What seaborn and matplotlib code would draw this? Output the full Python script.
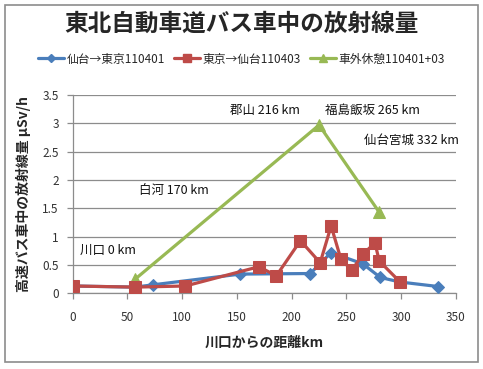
import matplotlib
matplotlib.use("Agg")
import matplotlib.pyplot as plt
import seaborn as sns
import pandas as pd
from matplotlib.ticker import FuncFormatter, MultipleLocator
from matplotlib.lines import Line2D
from matplotlib.patches import Rectangle

# ---- data ----
blue_name = "仙台→東京110401"
red_name = "東京→仙台110403"
green_name = "車外休憩110401+03"

blue_km = [0, 57, 73, 153, 217, 236, 265, 281, 299, 334]
blue_val = [0.13, 0.11, 0.15, 0.34, 0.35, 0.72, 0.52, 0.28, 0.20, 0.12]

red_km = [0, 57, 103, 170, 186, 208, 226, 236, 245, 255, 265, 276, 280, 299]
red_val = [0.13, 0.11, 0.13, 0.47, 0.31, 0.93, 0.54, 1.19, 0.60, 0.41, 0.69, 0.89, 0.57, 0.20]

green_km = [280, 225, 57]
green_val = [1.43, 2.97, 0.25]

notes = ["川口 0 km", "白河 170 km", "郡山 216 km", "福島飯坂 265 km", "仙台宮城 332 km"]
note_x = [7, 61, 144, 230, 266]
note_y = [0.76, 1.82, 3.23, 3.23, 2.70]

title = "東北自動車道バス車中の放射線量"
xlabel = "川口からの距離km"
ylabel = "高速バス車中の放射線量 μSv/h"

# ---- style ----
sns.set_theme(style="white")
plt.rcParams["font.family"] = ["Noto Sans CJK JP", "DejaVu Sans"]

BLUE = "#4A7EBB"
RED = "#BE4B48"
GREEN = "#98B954"

fig = plt.figure(figsize=(4.83, 3.69), dpi=100)
ax = fig.add_axes([0.1505, 0.205, 0.944 - 0.1505, 0.7425 - 0.205])

df_b = pd.DataFrame({"km": blue_km, "val": blue_val})
df_r = pd.DataFrame({"km": red_km, "val": red_val})
df_g = pd.DataFrame({"km": green_km, "val": green_val})

sns.lineplot(data=df_g, x="km", y="val", ax=ax, sort=False, color=GREEN, lw=2.3,
             marker="^", markersize=8, markeredgecolor=GREEN, zorder=3)
sns.lineplot(data=df_b, x="km", y="val", ax=ax, sort=False, color=BLUE, lw=2.3,
             marker="D", markersize=6, markeredgecolor=BLUE, zorder=4)
sns.lineplot(data=df_r, x="km", y="val", ax=ax, sort=False, color=RED, lw=2.3,
             marker="s", markersize=8, markeredgecolor=RED, zorder=5)

ax.set_xlim(0, 350)
ax.set_ylim(0, 3.5)
ax.xaxis.set_major_locator(MultipleLocator(50))
ax.yaxis.set_major_locator(MultipleLocator(0.5))
ax.yaxis.set_major_formatter(FuncFormatter(lambda v, p: f"{v:g}"))
ax.grid(axis="y", color="#8c8c8c", lw=0.9)
ax.grid(axis="x", visible=False)
for s in ["top", "right"]:
    ax.spines[s].set_visible(False)
for s in ["left", "bottom"]:
    ax.spines[s].set_color("#8c8c8c")
    ax.spines[s].set_linewidth(0.9)
ax.tick_params(axis="both", length=4, width=0.9, color="#8c8c8c", labelsize=8.5,
               labelcolor="#333333", direction="out", pad=6)
ax.tick_params(axis="x", pad=9)
ax.tick_params(left=True, bottom=True)

ax.set_xlabel(xlabel, fontsize=10, fontweight="bold", labelpad=8)
ax.set_ylabel(ylabel, fontsize=10, fontweight="bold", labelpad=8)

for t, x, y in zip(notes, note_x, note_y):
    ax.text(x, y, t, fontsize=9, color="#111111", ha="left", va="center")

fig.text(0.5, 0.935, title, ha="center", va="center", fontsize=17, fontweight="bold")

handles = [
    Line2D([], [], color=BLUE, lw=2.3, marker="D", markersize=4),
    Line2D([], [], color=RED, lw=2.3, marker="s", markersize=6),
    Line2D([], [], color=GREEN, lw=2.3, marker="^", markersize=6),
]
fig.legend(handles, [blue_name, red_name, green_name], loc="center",
           bbox_to_anchor=(0.5, 0.84), ncol=3, frameon=False, fontsize=8.5,
           handlelength=2.2, handletextpad=0.2, columnspacing=0.8)

fig.patches.append(Rectangle((5 / 483, 1 - 362 / 369), 473 / 483, 357 / 369,
                             transform=fig.transFigure, fill=False,
                             edgecolor="#8c8c8c", lw=1.2))

fig.savefig("out.png", dpi=100)
